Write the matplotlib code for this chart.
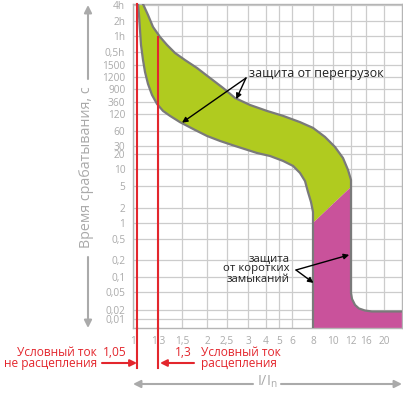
import numpy as np
import matplotlib
matplotlib.use("Agg")
import matplotlib.pyplot as plt

plt.rcParams['font.family'] = ['Open Sans', 'DejaVu Sans']

# tick values and labels
x_ticks = [1, 1.3, 1.5, 2, 2.5, 3, 4, 5, 6, 8, 10, 12, 16, 20]
x_labels = ["1", "1,3", "1,5", "2", "2,5", "3", "4", "5", "6", "8", "10", "12", "16", "20"]
y_ticks = [14400, 7200, 3600, 1800, 1500, 1200, 900, 360, 120, 60, 30, 20, 10,
           5, 2, 1, 0.5, 0.2, 0.1, 0.05, 0.02, 0.01]
y_labels = ["4h", "2h", "1h", "0,5h", "1500", "1200", "900", "360", "120", "60",
            "30", "20", "10", "5", "2", "1", "0,5", "0,2", "0,1", "0,05", "0,02", "0,01"]

# thermal release band, left (lower) boundary: I/In, seconds
lower_I = [1.06, 1.072, 1.084, 1.096, 1.12, 1.144, 1.18, 1.228, 1.288, 1.342,
           1.4, 1.483, 1.76, 2.0, 2.325, 2.69, 3.5, 4.31, 5.31, 6.1, 6.76,
           7.24, 7.52, 7.81, 8.0, 8.0]
lower_t = [15000, 9330, 4740, 2440, 1607, 1316, 1014, 589, 300, 158,
           111, 86, 62.5, 47.6, 37.8, 30, 21, 18.2, 14.5, 11.5, 8.5,
           6.1, 3.9, 2.56, 1.66, 0.005]
# right (upper) boundary, continues into the magnetic release
upper_I = [1.12, 1.18, 1.24, 1.317, 1.375, 1.442, 1.56, 1.80, 2.075, 2.4,
           2.69, 3.11, 4.08, 5.31, 6.76, 8.0, 9.2, 10.22, 11.11, 11.67, 12.0,
           12.0, 12.0, 12.27, 13.07, 14.1, 15.7, 17.3, 24]
upper_t = [15000, 9330, 5460, 3445, 2440, 1774, 1607, 1418, 1171, 923,
           477, 273, 158, 111, 86, 68, 45.5, 28.5, 16.6, 9.6, 6.4,
           4.8, 0.0475, 0.035, 0.0258, 0.0216, 0.0192, 0.0178, 0.0178]
# border between green and magenta
split_I = [8, 12]
split_t = [1, 4.8]
# conditional currents
cond_I = [1.05, 1.3]
cond_top = [15000, 3445]

x_lim = (1, 24)
y_lim = (0.005, 15000)

# layout of the schematic grid (pixel rows/columns)
xa_v = np.array([0.5] + x_ticks + [40.0])
xa_p = np.array([91.5, 133, 158, 182, 207, 227, 248, 266, 279, 292, 313, 333,
                 351, 366, 384, 474], dtype=float)
y_px = [5, 21, 36, 52, 65, 77, 89, 102, 114, 131, 146, 154, 169, 186, 208, 223,
        239, 260, 277, 292, 310, 319]
ya_v = np.log10(np.array([1e-3] + y_ticks[::-1] + [1e6], dtype=float))
ya_p = -np.array([349] + y_px[::-1] + [-93], dtype=float)


def xf(v):
    return np.interp(v, xa_v, xa_p)


def xi(p):
    return np.interp(p, xa_p, xa_v)


def yf(v):
    return np.interp(np.log10(np.clip(v, 1e-12, None)), ya_v, ya_p)


def yi(p):
    return 10 ** np.interp(p, ya_p, ya_v)


W, H = 403, 395


def fp(x, y):
    return (x / W, 1 - y / H)


GREEN = '#b0cb1f'
MAGENTA = '#c9529b'
RED = '#e3262d'
GRAY = '#aaaaaa'
EDGE = '#7a7a7a'

fig = plt.figure(figsize=(W / 100, H / 100), dpi=100)
ax = fig.add_axes([133 / W, 67 / H, 269 / W, 324 / H])
ax.set_xscale('function', functions=(xf, xi))
ax.set_yscale('function', functions=(yf, yi))
ax.set_xlim(*x_lim)
ax.set_ylim(*y_lim)
ax.set_xticks(x_ticks)
ax.set_xticklabels(x_labels)
ax.set_yticks(y_ticks)
ax.set_yticklabels(y_labels)
ax.minorticks_off()
ax.grid(True, color='#cccccc', lw=0.9)
ax.set_axisbelow(True)
ax.tick_params(length=0, labelcolor=GRAY, labelsize=7.3)
ax.tick_params(axis='x', pad=6)
ax.tick_params(axis='y', pad=5.5)
for s in ax.spines.values():
    s.set_color('#b5b5b5')
    s.set_linewidth(1)

# green band
n_up = upper_t.index(split_t[1])
gx = lower_I[:-1] + split_I + upper_I[n_up::-1]
gy = lower_t[:-1] + split_t + upper_t[n_up::-1]
ax.fill(gx, gy, color=GREEN, lw=0, zorder=2)
# magenta region
mx = split_I + upper_I[n_up:] + [x_lim[1], split_I[0]]
my = split_t + upper_t[n_up:] + [y_lim[0], y_lim[0]]
ax.fill(mx, my, color=MAGENTA, lw=0, zorder=2)
ax.plot(lower_I, lower_t, color=EDGE, lw=1.6, zorder=3, solid_joinstyle='round')
ax.plot(upper_I, upper_t, color=EDGE, lw=1.6, zorder=3, solid_joinstyle='round')

# red conditional current lines
for xv, top in zip(cond_I, cond_top):
    ax.plot([xv, xv], [top, y_lim[0]], color=RED, lw=1.5, zorder=6, clip_on=False)
    ax.plot([xv, xv], [0, -0.1235], color=RED, lw=1.5, zorder=6, clip_on=False,
            transform=ax.get_xaxis_transform())

# red labels
fig.text(*fp(97, 353), "Условный ток", color=RED, fontsize=8.6, ha='right', va='center')
fig.text(*fp(97, 364), "не расцепления", color=RED, fontsize=8.6, ha='right', va='center')
fig.text(*fp(115, 353), "1,05", color=RED, fontsize=8.6, ha='center', va='center')
fig.text(*fp(183, 353), "1,3", color=RED, fontsize=8.6, ha='center', va='center')
fig.text(*fp(201, 353), "Условный ток", color=RED, fontsize=8.6, ha='left', va='center')
fig.text(*fp(201, 364), "расцепления", color=RED, fontsize=8.6, ha='left', va='center')
red_arrow = dict(arrowstyle='-|>', color=RED, lw=1.5, mutation_scale=10,
                 shrinkA=0, shrinkB=0)
fig.add_artist(matplotlib.patches.FancyArrowPatch(
    fp(102, 363), fp(137, 363), transform=fig.transFigure, **red_arrow))
fig.add_artist(matplotlib.patches.FancyArrowPatch(
    fp(194, 363), fp(160, 363), transform=fig.transFigure, **red_arrow))

# gray axis captions with arrows
gray_arrow = dict(arrowstyle='-|>', color=GRAY, lw=1.5, mutation_scale=11,
                  shrinkA=0, shrinkB=0)
for a, b in [((88, 79), (88, 5)), ((88, 257), (88, 328)),
             ((253, 384), (133, 384)), ((281, 384), (402, 384))]:
    fig.add_artist(matplotlib.patches.FancyArrowPatch(
        fp(*a), fp(*b), transform=fig.transFigure, **gray_arrow))
fig.text(*fp(86, 167), "Время срабатывания, с", color=GRAY, fontsize=10.3,
         rotation=90, ha='center', va='center')
fig.text(*fp(267, 382), r"I/I$_\mathregular{n}$", color=GRAY, fontsize=10.3,
         ha='center', va='center')

# black annotations
blk = dict(arrowstyle='-|>', color='black', lw=1, mutation_scale=8,
           shrinkA=0, shrinkB=0)
ax.text(*fp(249, 73), "защита от перегрузок", transform=fig.transFigure,
        fontsize=9, ha='left', va='center', color='#222222', zorder=7)
ax.annotate("", xy=(1.5, 84), xycoords='data', xytext=fp(246, 78),
            textcoords='figure fraction', arrowprops=blk, zorder=7)
ax.annotate("", xy=(2.72, 440), xycoords='data', xytext=fp(246, 78),
            textcoords='figure fraction', arrowprops=blk, zorder=7)
for txt, yy in [("защита", 259), ("от коротких", 269), ("замыканий", 279)]:
    ax.text(*fp(290, yy), txt, transform=fig.transFigure, fontsize=8.2,
            ha='right', va='center', color='#222222', zorder=7)
ax.annotate("", xy=(11.8, 0.25), xycoords='data', xytext=fp(296, 270),
            textcoords='figure fraction', arrowprops=blk, zorder=7)
ax.annotate("", xy=(8.05, 0.076), xycoords='data', xytext=fp(296, 270),
            textcoords='figure fraction', arrowprops=blk, zorder=7)

fig.savefig("out.png", dpi=100)
